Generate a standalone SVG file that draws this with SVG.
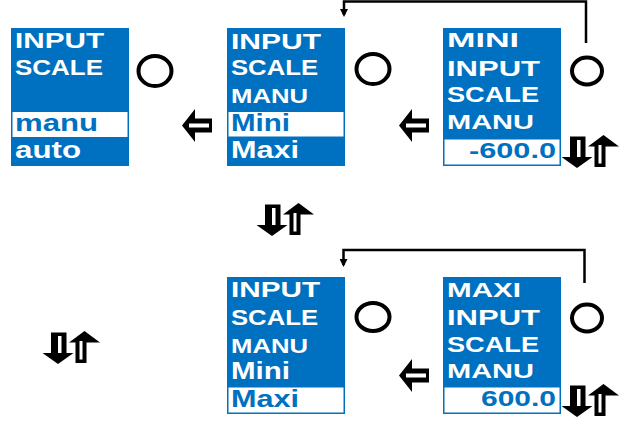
<svg xmlns="http://www.w3.org/2000/svg" xmlns:xlink="http://www.w3.org/1999/xlink" width="621" height="421" viewBox="0 0 621 421">
  <style>
    .panel { fill: #0070c0; }
    .sel { fill: #ffffff; stroke: #0070c0; stroke-width: 1.5; }
    .t { font-family: "Liberation Sans", Arial, sans-serif; font-weight: bold; }
    .w { fill: #ffffff; }
    .b { fill: #0070c0; }
    .key { fill: none; stroke: #000000; stroke-width: 4; }
    .wire { fill: none; stroke: #000000; stroke-width: 2.5; }
  </style>
  <defs>
    <marker id="tip" markerUnits="userSpaceOnUse" markerWidth="9" markerHeight="8" refX="6" refY="4" orient="auto">
      <path d="M0,0 L8,4 L0,8 Z" fill="#000000"/>
    </marker>
    <!-- hollow left-pointing arrow -->
    <g id="leftArrow">
      <path d="M0,16.5 L13,0 L13,9.5 L30,9.5 L30,23.5 L13,23.5 L13,33 Z" fill="#000000"/>
      <rect x="7" y="14.5" width="20" height="4" fill="#ffffff"/>
    </g>
    <!-- down/up scroll arrows -->
    <g id="upDown">
      <rect x="8" y="1.5" width="15.5" height="21.5" fill="#000000"/>
      <rect x="15" y="5" width="3.5" height="17" fill="#ffffff"/>
      <path d="M-0.5,22 L30.5,22 L15,33 Z" fill="#000000"/>
      <path d="M26,11.5 L57,11.5 L41.5,0 Z" fill="#000000"/>
      <rect x="32.5" y="11" width="11" height="21" fill="#000000"/>
      <rect x="36.5" y="10" width="3" height="18.5" fill="#ffffff"/>
    </g>
  </defs>

  <!-- connectors -->
  <g id="connectors">
    <path class="wire" d="M586,43 V1.5 H344 V15" marker-end="url(#tip)"/>
    <path class="wire" d="M584.5,283 V250 H343.5 V265" marker-end="url(#tip)"/>
    <use xlink:href="#leftArrow" x="182" y="109"/>
    <use xlink:href="#leftArrow" x="399" y="109"/>
    <use xlink:href="#leftArrow" x="399" y="359"/>
    <use xlink:href="#upDown" x="562" y="135"/>
    <use xlink:href="#upDown" x="257" y="203"/>
    <use xlink:href="#upDown" x="43" y="331"/>
    <use xlink:href="#upDown" x="562" y="384"/>
  </g>

  <!-- input scale: manu / auto -->
  <g id="node-scale">
    <rect class="panel" x="11" y="28" width="118" height="138"/>
    <rect x="12.5" y="112" width="115" height="25" fill="#ffffff"/>
    <text class="t w" x="15" y="48" font-size="22" textLength="89" lengthAdjust="spacingAndGlyphs">INPUT</text>
    <text class="t w" x="15" y="75" font-size="22" textLength="88" lengthAdjust="spacingAndGlyphs">SCALE</text>
    <text class="t b" x="15" y="131" font-size="24" textLength="83" lengthAdjust="spacingAndGlyphs">manu</text>
    <text class="t w" x="15" y="158" font-size="24" textLength="66" lengthAdjust="spacingAndGlyphs">auto</text>
    <ellipse class="key" cx="155" cy="71" rx="16.5" ry="15"/>
  </g>

  <!-- manual scale: Mini selected -->
  <g id="node-manu-mini">
    <rect class="panel" x="227" y="28" width="118" height="138"/>
    <rect class="sel" x="227.75" y="111.25" width="116.5" height="26"/>
    <text class="t w" x="231" y="49" font-size="22" textLength="90" lengthAdjust="spacingAndGlyphs">INPUT</text>
    <text class="t w" x="231" y="75" font-size="22" textLength="87" lengthAdjust="spacingAndGlyphs">SCALE</text>
    <text class="t w" x="231" y="103" font-size="20.5" textLength="77" lengthAdjust="spacingAndGlyphs">MANU</text>
    <text class="t b" x="231" y="131" font-size="23" textLength="59" lengthAdjust="spacingAndGlyphs">Mini</text>
    <text class="t w" x="231" y="158" font-size="23" textLength="68" lengthAdjust="spacingAndGlyphs">Maxi</text>
    <ellipse class="key" cx="373" cy="69" rx="16.5" ry="15"/>
  </g>

  <!-- minimum value -->
  <g id="node-mini-value">
    <rect class="panel" x="443" y="28" width="118" height="110"/>
    <rect class="sel" x="443.75" y="138.75" width="116.5" height="26.5"/>
    <text class="t w" x="447" y="47" font-size="21" textLength="72" lengthAdjust="spacingAndGlyphs">MINI</text>
    <text class="t w" x="447" y="76" font-size="22" textLength="93" lengthAdjust="spacingAndGlyphs">INPUT</text>
    <text class="t w" x="447" y="102" font-size="22" textLength="92" lengthAdjust="spacingAndGlyphs">SCALE</text>
    <text class="t w" x="447" y="129" font-size="21" textLength="87" lengthAdjust="spacingAndGlyphs">MANU</text>
    <text class="t b" x="469" y="158" font-size="22" textLength="87" lengthAdjust="spacingAndGlyphs">-600.0</text>
    <ellipse class="key" cx="587" cy="71" rx="15" ry="13.5"/>
  </g>

  <!-- manual scale: Maxi selected -->
  <g id="node-manu-maxi">
    <rect class="panel" x="227" y="277" width="118" height="109"/>
    <rect class="sel" x="227.75" y="386.75" width="116.5" height="26.5"/>
    <text class="t w" x="231" y="297" font-size="22" textLength="89" lengthAdjust="spacingAndGlyphs">INPUT</text>
    <text class="t w" x="231" y="325" font-size="22" textLength="87" lengthAdjust="spacingAndGlyphs">SCALE</text>
    <text class="t w" x="231" y="353" font-size="20.5" textLength="77" lengthAdjust="spacingAndGlyphs">MANU</text>
    <text class="t w" x="231" y="379" font-size="23" textLength="59" lengthAdjust="spacingAndGlyphs">Mini</text>
    <text class="t b" x="231" y="407" font-size="23" textLength="68" lengthAdjust="spacingAndGlyphs">Maxi</text>
    <ellipse class="key" cx="373" cy="317" rx="16.5" ry="14"/>
  </g>

  <!-- maximum value -->
  <g id="node-maxi-value">
    <rect class="panel" x="443" y="277" width="118" height="109"/>
    <rect class="sel" x="443.75" y="386.75" width="116.5" height="26.5"/>
    <text class="t w" x="447" y="297" font-size="21" textLength="74" lengthAdjust="spacingAndGlyphs">MAXI</text>
    <text class="t w" x="447" y="325" font-size="22" textLength="93" lengthAdjust="spacingAndGlyphs">INPUT</text>
    <text class="t w" x="447" y="352" font-size="22" textLength="92" lengthAdjust="spacingAndGlyphs">SCALE</text>
    <text class="t w" x="447" y="378" font-size="21" textLength="87" lengthAdjust="spacingAndGlyphs">MANU</text>
    <text class="t b" x="481" y="406" font-size="22" textLength="75" lengthAdjust="spacingAndGlyphs">600.0</text>
    <ellipse class="key" cx="587" cy="318" rx="15" ry="13.5"/>
  </g>
</svg>
